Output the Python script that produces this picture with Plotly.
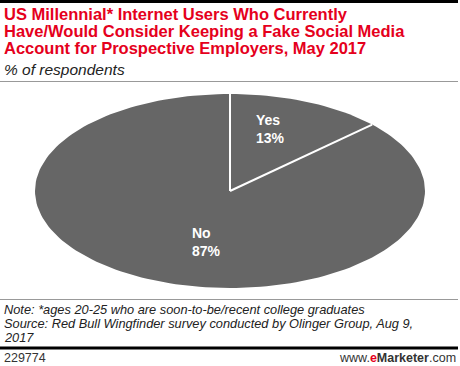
import math
import plotly.graph_objects as go

# ---- data ----
categories = ["Yes", "No"]
values = [13, 87]

title_lines = [
    "US Millennial* Internet Users Who Currently",
    "Have/Would Consider Keeping a Fake Social Media",
    "Account for Prospective Employers, May 2017",
]
subtitle = "% of respondents"
note_lines = [
    "Note: *ages 20-25 who are soon-to-be/recent college graduates",
    "Source: Red Bull Wingfinder survey conducted by Olinger Group, Aug 9,",
    "2017",
]
chart_id = "229774"

# ---- style / geometry ----
W, H = 460, 366
CX, CY, RX, RY = 230, 191, 195, 97
SLICE_COLOR = "#666666"
RED = "#e5001c"
FONT = "Liberation Sans, Arial, sans-serif"
LABEL_FRAC = {"Yes": (0.52, 0.70), "No": (0.30, 0.57)}

fig = go.Figure()

total = sum(values)
cum = 0.0
label_pos = []
boundaries = []
for cat, v in zip(categories, values):
    a0 = cum / total * 2 * math.pi
    cum += v
    a1 = cum / total * 2 * math.pi
    n = max(int(200 * v / total), 8)
    xs, ys = [CX], [CY]
    for i in range(n + 1):
        t = a0 + (a1 - a0) * i / n
        xs.append(CX + RX * math.sin(t))
        ys.append(CY - RY * math.cos(t))
    xs.append(CX)
    ys.append(CY)
    fig.add_trace(go.Scatter(x=xs, y=ys, mode="lines", fill="toself",
                             fillcolor=SLICE_COLOR, line=dict(width=0),
                             hoverinfo="skip", showlegend=False))
    boundaries.append(a0)
    mid = (a0 + a1) / 2
    fx, fy = LABEL_FRAC[cat]
    label_pos.append((cat, v, CX + RX * fx * math.sin(mid), CY - RY * fy * math.cos(mid)))

# white separators
for a in boundaries:
    fig.add_trace(go.Scatter(x=[CX, CX + RX * math.sin(a)], y=[CY, CY - RY * math.cos(a)],
                             mode="lines", line=dict(color="white", width=2),
                             hoverinfo="skip", showlegend=False))

annotations = []
for cat, v, lx, ly in label_pos:
    annotations.append(dict(x=lx, y=ly, xref="x", yref="y", text=f"<b>{cat}<br>{v}%</b>",
                            showarrow=False, align="left", xanchor="center", yanchor="middle",
                            font=dict(family=FONT, size=14, color="white")))

for i, t in enumerate(title_lines):
    annotations.append(dict(x=2, y=14 + 17 * i, xref="x", yref="y", text=f"<b>{t}</b>",
                            showarrow=False, xanchor="left", yanchor="middle",
                            font=dict(family=FONT, size=16.5, color=RED)))
annotations.append(dict(x=2, y=69, xref="x", yref="y", text=f"<i>{subtitle}</i>",
                        showarrow=False, xanchor="left", yanchor="middle",
                        font=dict(family=FONT, size=15.5, color="#222222")))
for i, t in enumerate(note_lines):
    annotations.append(dict(x=2, y=309.5 + 14 * i, xref="x", yref="y", text=f"<i>{t}</i>",
                            showarrow=False, xanchor="left", yanchor="middle",
                            font=dict(family=FONT, size=12.8, color="#222222")))
annotations.append(dict(x=2, y=358, xref="x", yref="y", text=chart_id,
                        showarrow=False, xanchor="left", yanchor="middle",
                        font=dict(family=FONT, size=12.5, color="#333333")))
annotations.append(dict(x=458, y=358, xref="x", yref="y",
                        text=f"www.<b><span style='color:{RED}'>e</span>Marketer</b>.com",
                        showarrow=False, xanchor="right", yanchor="middle",
                        font=dict(family=FONT, size=12.5, color="#333333")))

shapes = [
    dict(type="rect", x0=0, x1=458, y0=0, y1=3, xref="x", yref="y",
         fillcolor="black", line=dict(width=0)),
    dict(type="line", x0=0, x1=458, y0=81.5, y1=81.5, xref="x", yref="y",
         line=dict(color="#999999", width=1)),
    dict(type="line", x0=0, x1=458, y0=299.5, y1=299.5, xref="x", yref="y",
         line=dict(color="#999999", width=1)),
    dict(type="rect", x0=0, x1=458, y0=346.5, y1=349.5, xref="x", yref="y",
         fillcolor="black", line=dict(width=0)),
]

fig.update_layout(
    width=W, height=H, margin=dict(l=0, r=0, t=0, b=0),
    paper_bgcolor="white", plot_bgcolor="white",
    xaxis=dict(range=[0, W], visible=False, fixedrange=True),
    yaxis=dict(range=[H, 0], visible=False, fixedrange=True),
    annotations=annotations, shapes=shapes, showlegend=False,
)

fig.write_html("out.html", config={"displayModeBar": False},
               post_script="document.body.style.margin='0';document.body.style.overflow='hidden';")
